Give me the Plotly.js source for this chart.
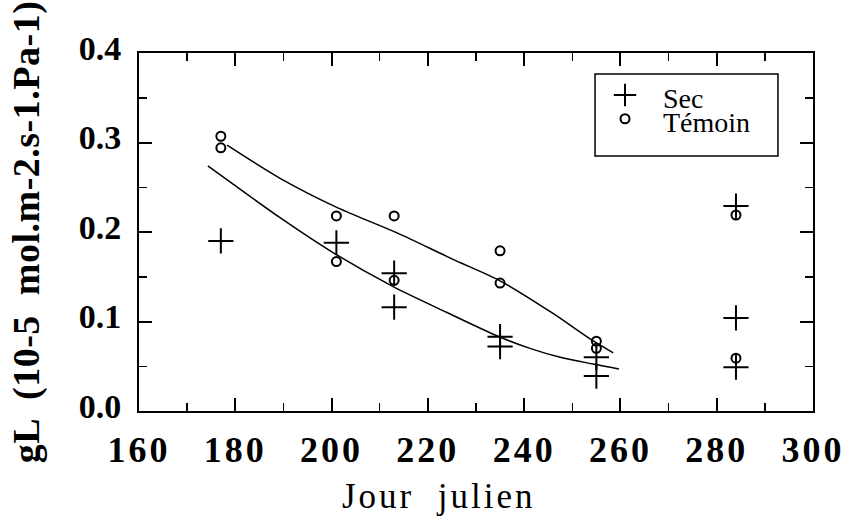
<!DOCTYPE html>
<html>
<head>
<meta charset="utf-8">
<script src="https://cdn.plot.ly/plotly-3.0.1.min.js"></script>
<style>
html,body{margin:0;padding:0;background:#fff;}
#chart{width:849px;height:532px;}
.xtick text{letter-spacing:3px;}
.ytitle{letter-spacing:0.5px;}
.annotation-text{letter-spacing:3px;}
.legendtext{font-size:28px !important; transform:translateY(7px);}
</style>
</head>
<body>
<div id="chart"></div>
<script>
// Observed points
const secDays = [177, 201, 213, 213, 235, 235, 255, 255, 284, 284, 284];
const secValues = [0.190, 0.188, 0.154, 0.116, 0.083, 0.072, 0.060, 0.039, 0.229, 0.104, 0.049];
const temoinDays = [177, 177, 201, 201, 213, 213, 235, 235, 255, 255, 284, 284];
const temoinValues = [0.307, 0.294, 0.218, 0.167, 0.218, 0.146, 0.179, 0.143, 0.078, 0.070, 0.219, 0.059];
// Fitted curves
const secFitDays = [174.3, 178.9, 189.3, 200.3, 212.8, 224.0, 234.8, 241.2, 247.5, 254.3, 259.7];
const secFitValues = [0.274, 0.256, 0.216, 0.177, 0.139, 0.110, 0.083, 0.070, 0.060, 0.0525, 0.047];
const temoinFitDays = [178.3, 189.3, 201.3, 213.6, 225.0, 234.8, 246.0, 253.3, 258.5];
const temoinFitValues = [0.297, 0.260, 0.227, 0.199, 0.170, 0.146, 0.109, 0.082, 0.065];
const seriesNames = ["Sec", "Témoin"];
const xTicks = [160, 180, 200, 220, 240, 260, 280, 300];
const yTicks = [0.0, 0.1, 0.2, 0.3, 0.4];
const yTickText = ["0.0", "0.1", "0.2", "0.3", "0.4"];
const xTitle = "Jour \u00a0julien";
const yTitle = "gL \u00a0(10-5 \u00a0mol.m-2.s-1.Pa-1)";

const serif = "Liberation Serif, Times New Roman, serif";

const traces = [
  {x: secFitDays, y: secFitValues, mode: "lines", line: {color: "#000", width: 1.5, shape: "spline", smoothing: 0.8}, showlegend: false, hoverinfo: "skip"},
  {x: temoinFitDays, y: temoinFitValues, mode: "lines", line: {color: "#000", width: 1.5, shape: "spline", smoothing: 0.8}, showlegend: false, hoverinfo: "skip"},
  {x: secDays, y: secValues, mode: "markers", name: seriesNames[0],
   marker: {symbol: "cross-thin-open", size: 18, color: "#000", line: {color: "#000", width: 2}}},
  {x: temoinDays, y: temoinValues, mode: "markers", name: seriesNames[1],
   marker: {symbol: "circle-open", size: 9, color: "#000", line: {color: "#000", width: 2}}}
];

const layout = {
  width: 849, height: 532,
  margin: {l: 139, r: 36, t: 53, b: 121},
  paper_bgcolor: "#fff", plot_bgcolor: "#fff",
  font: {family: serif, color: "#000"},
  xaxis: {
    range: [160, 300], tickvals: xTicks, ticks: "inside", ticklen: 13, tickwidth: 2, tickcolor: "#000",
    showline: true, linecolor: "#000", linewidth: 2, mirror: "allticks", showgrid: false, zeroline: false,
    minor: {dtick: 10, ticks: "inside", ticklen: 8, tickwidth: 1.5, tickcolor: "#000", showgrid: false},
    tickfont: {family: serif, size: 36, weight: "bold", color: "#000"},
    ticklabelstandoff: 6
  },
  yaxis: {
    range: [0, 0.4], tickvals: yTicks, ticktext: yTickText, ticks: "inside", ticklen: 13, tickwidth: 2, tickcolor: "#000",
    showline: true, linecolor: "#000", linewidth: 2, mirror: "allticks", showgrid: false, zeroline: false,
    minor: {dtick: 0.05, ticks: "inside", ticklen: 8, tickwidth: 1.5, tickcolor: "#000", showgrid: false},
    tickfont: {family: serif, size: 34, weight: "bold", color: "#000"},
    ticklabelstandoff: 9, ticklabelshift: -5,
    title: {text: yTitle, font: {family: serif, size: 38, weight: "bold", color: "#000"}, standoff: 27}
  },
  annotations: [{
    text: xTitle, xref: "paper", yref: "paper", x: 0.445, y: -0.24, xanchor: "center", yanchor: "middle",
    showarrow: false, font: {family: serif, size: 35, color: "#000"}
  }],
  shapes: [{
    type: "rect", xref: "paper", yref: "paper", x0: 0.6766, x1: 0.948, y0: 0.7123, y1: 0.9413,
    line: {color: "#000", width: 1.5}, fillcolor: "rgba(0,0,0,0)"
  }],
  legend: {
    x: 0.6647, y: 0.93, xanchor: "left", yanchor: "top",
    borderwidth: 0, bgcolor: "rgba(0,0,0,0)",
    font: {family: serif, size: 16, color: "#000"},
    tracegroupgap: 0, itemwidth: 66
  },
  showlegend: true
};

Plotly.newPlot("chart", traces, layout, {displayModeBar: false, staticPlot: true});
</script>
</body>
</html>
